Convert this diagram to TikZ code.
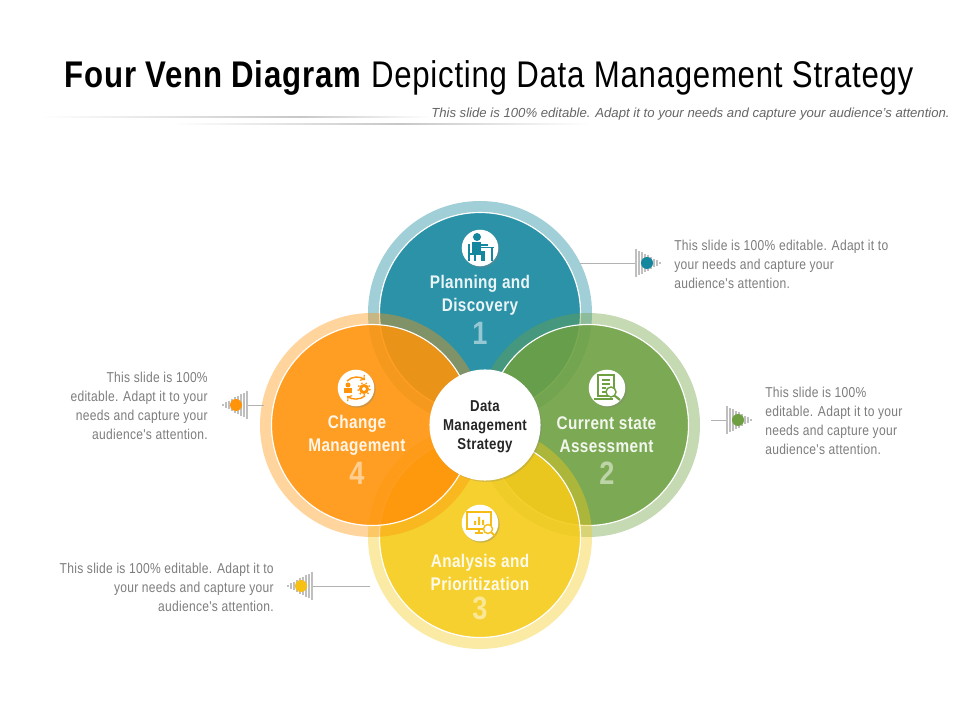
\documentclass[tikz,border=0pt]{standalone}
\usepackage{fontspec}
\setmainfont{Liberation Sans}
\newfontfamily\condfont{Liberation Sans}[FakeStretch=0.84,LetterSpace=2]
\usetikzlibrary{positioning, shadows}

\definecolor{tealc}{RGB}{20,135,158}
\definecolor{greenc}{RGB}{110,160,65}
\definecolor{yellowc}{RGB}{245,203,25}
\definecolor{orangec}{RGB}{255,148,10}
\definecolor{notegray}{RGB}{125,125,125}

\tikzset{
    title/.style={font=\condfont\fontsize{26.4}{30}\selectfont, text=black, inner sep=0pt},
    subtitle/.style={font=\itshape\fontsize{9.35}{11}\selectfont, text=black!60, inner sep=0pt},
    heading/.style={font=\condfont\bfseries\fontsize{13}{16.4}\selectfont, text=white, text opacity=0.9, align=center, inner sep=0pt},
    digit/.style={font=\condfont\bfseries\fontsize{23}{24}\selectfont, text=white, text opacity=0.5, inner sep=0pt},
    note/.style={font=\condfont\fontsize{10.2}{13.5}\selectfont, text=notegray, inner sep=0pt},
    hub/.style={circle, fill=white, minimum size=79pt, inner sep=0pt, drop shadow={opacity=0.25, shadow xshift=1pt, shadow yshift=-1pt}},
    hubtext/.style={font=\condfont\bfseries\fontsize{11.2}{13.5}\selectfont, text=black!85, align=center, inner sep=0pt},
    badge/.style={circle, fill=white, minimum size=26pt, inner sep=0pt, drop shadow={opacity=0.35, shadow xshift=1pt, shadow yshift=-1pt}},
    leader/.style={draw=black!30, line width=0.5pt},
}

% one venn disc: halo, white rim, filling
\newcommand{\venndisc}[2]{
    \fill[#2, fill opacity=0.4, even odd rule] (#1) circle (112) (#1) circle (101);
    \draw[white, line width=0.8pt, fill=#2, fill opacity=0.9] (#1) circle (100.5);
}

% striped arrow head with its dot
\newcommand{\stripes}[3]{
    \begin{scope}[shift={(#1)}, xscale=#2]
        \foreach \k in {0,...,8} {
            \draw[black!25, line width=0.9pt] (\k*3,{-14+\k*1.6}) -- (\k*3,{14-\k*1.6});
        }
        \fill[#3] (11,0) circle (6);
    \end{scope}
}

\begin{document}
\begin{tikzpicture}[x=0.025cm, y=-0.025cm]
    \useasboundingbox (0,0) rectangle (960,720);
    \fill[white] (0,0) rectangle (960,720);

    % Centers of the four discs and of the hub
    \coordinate (planC) at (480,313);
    \coordinate (currC) at (588,425);
    \coordinate (analC) at (480,537);
    \coordinate (chngC) at (372,425);

    % Title and the two fading rules
    \node[title, anchor=base] (head) at (489,88) {\textbf{Four Venn Diagram} Depicting Data Management Strategy};
    \shade[left color=white, right color=black!22] (40,116.5) rectangle (300,118);
    \shade[left color=black!22, right color=white] (300,116.5) rectangle (432,118);
    \shade[left color=white, right color=black!22] (170,123.5) rectangle (400,125);
    \shade[left color=black!22, right color=white] (400,123.5) rectangle (590,125);
    \node[subtitle, anchor=base east] (sub) at (950,118) {This slide is 100\% editable. Adapt it to your needs and capture your audience's attention.};

    % Discs, later ones lie on the earlier ones
    \venndisc{planC}{tealc}
    \venndisc{currC}{greenc}
    \venndisc{analC}{yellowc}
    \venndisc{chngC}{orangec}

    % Hub
    \node[hub] (hub) at (485,425) {};
    \node[hubtext] (hubT) at (485,427) {Data\\Management\\Strategy};

    % Disc labels
    \node[heading] (planT) at (480,295.5) {Planning and\\Discovery};
    \node[digit] (planN) at (480,333) {1};
    \node[heading] (currT) at (606.5,435) {Current state\\Assessment};
    \node[digit] (currN) at (607,473) {2};
    \node[heading] (analT) at (480,572) {Analysis and\\Prioritization};
    \node[digit] (analN) at (480,608) {3};
    \node[heading] (chngT) at (357,435) {Change\\Management};
    \node[digit] (chngN) at (357,473) {4};

    % Badges
    \node[badge] (planB) at (480,248) {};
    \node[badge] (currB) at (607,388) {};
    \node[badge] (analB) at (480,523) {};
    \node[badge] (chngB) at (356,388) {};

    % Person at a desk
    \begin{scope}[shift={(planB)}]
        \fill[tealc] (-3,-11) circle (4);
        \fill[tealc] (-8,-6) rectangle (1,5);
        \fill[tealc] (-4,3) rectangle (5,7);
        \fill[tealc] (1,5) rectangle (5,13);
        \fill[tealc] (0,-4) rectangle (8,-1.5);
        \draw[tealc, line width=0.8pt] (-11,-4) -- (-11,13) (-11,6) -- (-5,6) -- (-5,13) (0,-0.5) -- (14,-0.5) (12,-0.5) -- (12,13);
    \end{scope}

    % Report under a lens
    \begin{scope}[shift={(currB)}]
        \draw[greenc, line width=1pt] (-9,-13) rectangle (7,8);
        \draw[greenc, line width=1pt] (-5,-8) -- (3,-8) (-5,-4) -- (3,-4) (-5,0) -- (-1,0) (-5,4) -- (-1,4);
        \draw[greenc, line width=1pt, fill=white] (4,4) circle (5);
        \draw[greenc, line width=1.5pt] (8,8) -- (13,12);
        \draw[greenc, line width=1pt] (-13,11) -- (6,11);
    \end{scope}

    % Screen with bars and a lens
    \begin{scope}[shift={(analB)}]
        \draw[yellowc!80!orange, line width=1pt] (-13,-11) rectangle (11,6);
        \fill[yellowc!80!orange] (-6,2) rectangle (-4,-2) (-2,2) rectangle (0,-6) (2,2) rectangle (4,-3);
        \draw[yellowc!80!orange, line width=1pt] (-5,10) -- (3,10) (-1,6) -- (-1,10);
        \draw[yellowc!80!orange, line width=1pt, fill=white] (8,6) circle (4.5);
        \draw[yellowc!80!orange, line width=1.5pt] (11,9) -- (15,13);
    \end{scope}

    % Person and gear in a cycle
    \begin{scope}[shift={(chngB)}]
        \draw[orangec, line width=1pt, ->] (-9,-7) .. controls (-4,-12) and (4,-12) .. (9,-8);
        \draw[orangec, line width=1pt, ->] (9,8) .. controls (4,12) and (-4,12) .. (-9,8);
        \fill[orangec] (-8,-3) circle (2.5);
        \fill[orangec] (-12,5) rectangle (-4,0);
        \draw[orangec, line width=2pt] (8,1) circle (3.5);
        \draw[orangec, line width=1pt, dotted] (8,1) circle (6);
    \end{scope}

    % Pointers beside the discs
    \coordinate (planP) at (636,263);
    \coordinate (currP) at (727,420);
    \coordinate (analP) at (312,586);
    \coordinate (chngP) at (247,405);
    \coordinate (planE) at (580,263);
    \coordinate (currE) at (711,420);
    \coordinate (analE) at (370,586);
    \coordinate (chngE) at (264,405);
    \draw[leader] (planE) -- (planP);
    \draw[leader] (currE) -- (currP);
    \draw[leader] (analE) -- (analP);
    \draw[leader] (chngE) -- (chngP);
    \stripes{planP}{1}{tealc}
    \stripes{currP}{1}{greenc}
    \stripes{analP}{-1}{yellowc!85!orange}
    \stripes{chngP}{-1}{orangec}

    % Notes
    \node[note, anchor=west, align=left] (planD) at (674,264) {This slide is 100\% editable. Adapt it to\\your needs and capture your\\audience's attention.};
    \node[note, anchor=west, align=left] (currD) at (765,420.5) {This slide is 100\%\\editable. Adapt it to your\\needs and capture your\\audience's attention.};
    \node[note, anchor=east, align=right] (analD) at (274,587) {This slide is 100\% editable. Adapt it to\\your needs and capture your\\audience's attention.};
    \node[note, anchor=east, align=right] (chngD) at (208,405.5) {This slide is 100\%\\editable. Adapt it to your\\needs and capture your\\audience's attention.};
\end{tikzpicture}
\end{document}
